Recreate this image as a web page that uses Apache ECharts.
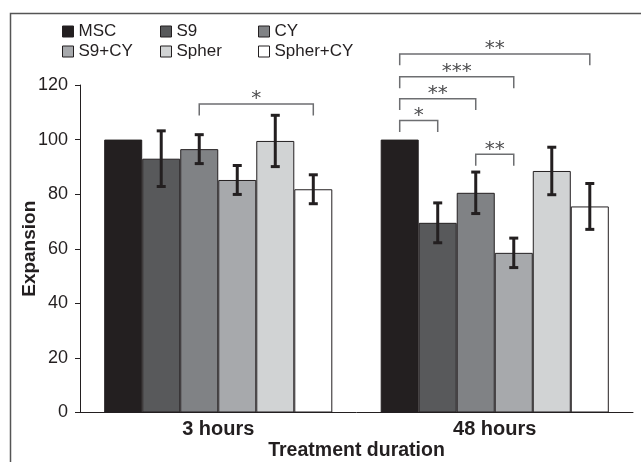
<!DOCTYPE html>
<html>
<head>
<meta charset="utf-8">
<script src="https://cdn.jsdelivr.net/npm/echarts@6/dist/echarts.min.js"></script>
<style>
  html, body { margin: 0; padding: 0; background: #fff; }
  #chart { width: 641px; height: 462px; }
</style>
</head>
<body>
<div id="chart"></div>
<script>
// groups along the x axis
const categories = ['3 hours', '48 hours'];
const seriesNames = ['MSC', 'S9', 'CY', 'S9+CY', 'Spher', 'Spher+CY'];
const barColors = ['#231f20', '#58595b', '#808285', '#a7a9ac', '#d1d3d4', '#ffffff'];

// mean expansion per group (3 hours, 48 hours)
const mscMean = [100, 100];
const s9Mean = [93, 69.5];
const cyMean = [96.5, 80.5];
const s9cyMean = [85.2, 58.5];
const spherMean = [99.5, 88.5];
const spherCyMean = [81.8, 75.5];

// error (half length of the error bar)
const mscErr = [0, 0];
const s9Err = [10.2, 7.3];
const cyErr = [5.3, 7.6];
const s9cyErr = [5.3, 5.4];
const spherErr = [9.4, 8.7];
const spherCyErr = [5.3, 8.4];

// significance brackets: [group, fromBar, toBar, level, stars]
const brackets = [
  [0, 2, 5, 113, '*'],
  [1, 0, 1, 107, '*'],
  [1, 0, 2, 115, '**'],
  [1, 0, 3, 123, '***'],
  [1, 0, 5, 131.4, '**'],
  [1, 2, 3, 94.6, '**']
];

const means = [mscMean, s9Mean, cyMean, s9cyMean, spherMean, spherCyMean];
const errs = [mscErr, s9Err, cyErr, s9cyErr, spherErr, spherCyErr];

const CAT_GAP = 0.175;
const FONT = 'Liberation Sans, Arial, sans-serif';
const INK = '#231f20';

function barCenter(api, cat, bar, y) {
  const p = api.coord([cat, y]);
  const band = api.size([1, 0])[0];
  const bw = band * (1 - CAT_GAP) / 6;
  return [p[0] + (bar - 2.5) * bw, p[1]];
}

const errData = [];
means.forEach((m, j) => {
  m.forEach((v, i) => {
    if (errs[j][i] > 0) errData.push([i, j, v, errs[j][i]]);
  });
});

const chart = echarts.init(document.getElementById('chart'));

const barSeries = seriesNames.map((name, j) => ({
  name: name,
  type: 'bar',
  data: means[j],
  barGap: '0%',
  barCategoryGap: (CAT_GAP * 100) + '%',
  itemStyle: { color: barColors[j], borderColor: INK, borderWidth: 1 },
  emphasis: { disabled: true },
  z: 2
}));

const legends = seriesNames.map((name, j) => ({
  data: [name],
  left: 62 + (j % 3) * 98,
  top: 23 + Math.floor(j / 3) * 20,
  padding: 0,
  itemWidth: 11,
  itemHeight: 11,
  itemGap: 0,
  selectedMode: false,
  icon: 'rect',
  itemStyle: { borderColor: INK, borderWidth: 1 },
  textStyle: { fontFamily: FONT, fontSize: 17, color: INK, lineHeight: 17 }
}));

const options = {
  animation: false,
  backgroundColor: '#fff',
  legend: legends,
  graphic: [{
    type: 'rect',
    shape: { x: 10.5, y: 13.5, width: 700, height: 500 },
    style: { fill: 'none', stroke: '#555', lineWidth: 1.5 },
    silent: true
  }],
  grid: { left: 80, right: 8, top: 85, bottom: 49.5, outerBoundsMode: 'none', containLabel: false },
  xAxis: {
    type: 'category',
    data: categories,
    name: 'Treatment duration',
    nameLocation: 'middle',
    nameGap: 28,
    nameMoveOverlap: false,
    nameTextStyle: { fontFamily: FONT, fontSize: 19.5, fontWeight: 'bold', color: INK },
    axisLine: { lineStyle: { color: INK, width: 1 } },
    axisTick: { length: 7, lineStyle: { color: INK } },
    axisLabel: { fontFamily: FONT, fontSize: 20, fontWeight: 'bold', color: INK, margin: 7 }
  },
  yAxis: {
    type: 'value',
    min: 0,
    max: 120,
    interval: 20,
    name: 'Expansion',
    nameLocation: 'middle',
    nameGap: 41,
    nameMoveOverlap: false,
    nameTextStyle: { fontFamily: FONT, fontSize: 19, fontWeight: 'bold', color: INK },
    splitLine: { show: false },
    axisLine: { show: true, lineStyle: { color: INK, width: 1 } },
    axisTick: { show: true, length: 5, lineStyle: { color: INK } },
    axisLabel: { fontFamily: FONT, fontSize: 18, color: INK, margin: 12 }
  },
  series: barSeries.concat([
    {
      type: 'custom',
      name: 'errors',
      data: errData,
      encode: { x: 0, y: 2 },
      silent: true,
      z: 5,
      renderItem: function (params, api) {
        const cat = api.value(0), bar = api.value(1), m = api.value(2), e = api.value(3);
        const hi = barCenter(api, cat, bar, m + e);
        const lo = barCenter(api, cat, bar, m - e);
        const cap = 4.5;
        const st = { stroke: INK, lineWidth: 3 };
        return {
          type: 'group',
          children: [
            { type: 'line', shape: { x1: hi[0], y1: hi[1], x2: lo[0], y2: lo[1] }, style: st },
            { type: 'line', shape: { x1: hi[0] - cap, y1: hi[1], x2: hi[0] + cap, y2: hi[1] }, style: st },
            { type: 'line', shape: { x1: lo[0] - cap, y1: lo[1], x2: lo[0] + cap, y2: lo[1] }, style: st }
          ]
        };
      }
    },
    {
      type: 'custom',
      name: 'brackets',
      data: brackets,
      encode: { x: 0, y: 3 },
      silent: true,
      z: 5,
      renderItem: function (params, api) {
        const b = brackets[params.dataIndex];
        const a = barCenter(api, b[0], b[1], b[3]);
        const c = barCenter(api, b[0], b[2], b[3]);
        const drop = barCenter(api, b[0], b[1], b[3] - 4.2)[1];
        return {
          type: 'group',
          children: [
            {
              type: 'polyline',
              shape: { points: [[a[0], drop], [a[0], a[1]], [c[0], c[1]], [c[0], drop]] },
              style: { stroke: '#6d6e71', lineWidth: 1.5, fill: 'none' }
            },
            {
              type: 'text',
              style: {
                x: (a[0] + c[0]) / 2,
                y: a[1] - 5,
                text: b[4],
                fontFamily: 'DejaVu Sans, sans-serif',
                fontSize: 20,
                fill: '#4d4d4f',
                align: 'center',
                verticalAlign: 'middle'
              }
            }
          ]
        };
      }
    }
  ])
};

chart.setOption(options);
</script>
</body>
</html>
